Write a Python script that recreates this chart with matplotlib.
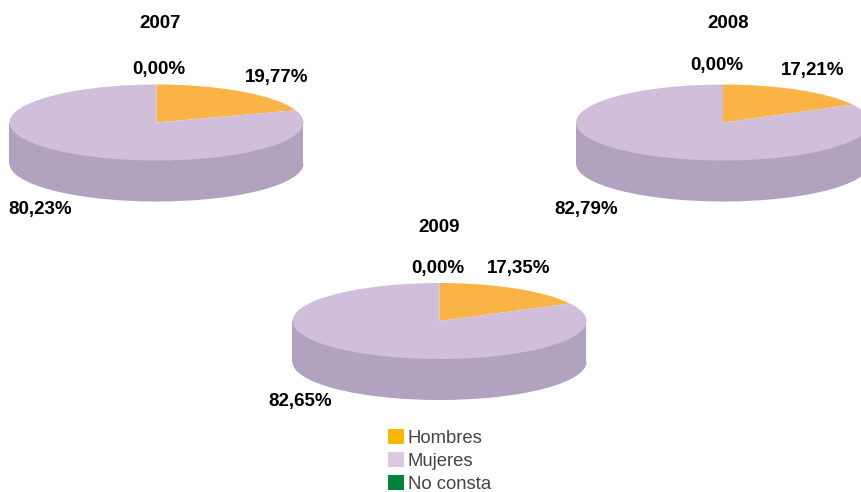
import matplotlib
matplotlib.use("Agg")
import matplotlib.pyplot as plt
from matplotlib.patches import Wedge, Rectangle, Patch
from matplotlib.transforms import Affine2D

years = ["2007", "2008", "2009"]
categories = ["Hombres", "Mujeres", "No consta"]
hombres = [19.77, 17.21, 17.35]
mujeres = [80.23, 82.79, 82.65]
no_consta = [0.00, 0.00, 0.00]

# pixel layout of each pie: centre x, centre y
centres = [(156.5, 122.5), (723, 122.5), (439.5, 321)]
title_pos = [(160, 23), (728.5, 23), (439.5, 228)]
h_pos = [(277, 77.5), (813, 70.5), (519, 268.5)]
m_pos = [(40.5, 209.5), (586.5, 209.5), (300.5, 401.5)]
n_pos = [(158.5, 69.5), (716.5, 65.5), (437.5, 268.5)]

rx = 147
ry = 38
depth = 41

c_h = "#fab446"
c_m = "#d1bedb"
c_side = "#b1a3bf"
c_n = "#00843d"

plt.rcParams["font.family"] = ["Liberation Sans", "DejaVu Sans"]

fig = plt.figure(figsize=(8.62, 4.92), dpi=100)
ax = fig.add_axes([0, 0, 1, 1])
ax.set_xlim(0, 862)
ax.set_ylim(492, 0)
ax.axis("off")


def pct(v):
    return f"{v:.2f}".replace(".", ",") + "%"


for i, year in enumerate(years):
    cx, cy = centres[i]
    ell = Affine2D().scale(rx, ry).translate(cx, cy) + ax.transData
    low = Affine2D().scale(rx, ry).translate(cx, cy + depth) + ax.transData

    # side of the cylinder
    ax.add_patch(Wedge((0, 0), 1, 0, 180, transform=low, fc=c_side, ec="none"))
    ax.add_patch(Rectangle((cx - rx, cy), 2 * rx, depth, fc=c_side, ec="none"))

    # top, clockwise from 12 o'clock (y axis is inverted)
    start = -90
    for val, col in zip([hombres[i], mujeres[i], no_consta[i]], [c_h, c_m, c_n]):
        if val > 0:
            end = start + 360 * val / 100
            ax.add_patch(Wedge((0, 0), 1, start, end, transform=ell, fc=col, ec="none"))
            start = end

    ax.text(*title_pos[i], year, fontsize=13.5, fontweight="bold", ha="center", va="center")
    ax.text(*h_pos[i], pct(hombres[i]), fontsize=13.5, fontweight="bold", ha="center", va="center")
    ax.text(*m_pos[i], pct(mujeres[i]), fontsize=13.5, fontweight="bold", ha="center", va="center")
    ax.text(*n_pos[i], pct(no_consta[i]), fontsize=13.5, fontweight="bold", ha="center", va="center")

handles = [Patch(fc="#f6b800", ec="none"), Patch(fc="#dcc9e0", ec="none"), Patch(fc=c_n, ec="none")]
ax.legend(handles, categories, loc="upper left", bbox_to_anchor=(388 / 862, 1 - 429 / 492),
          frameon=False, fontsize=13.3, labelcolor="#444444", borderpad=0, borderaxespad=0,
          handlelength=0.87, handleheight=0.87, handletextpad=0.2, labelspacing=0.27)

fig.savefig("out.png", dpi=100)
